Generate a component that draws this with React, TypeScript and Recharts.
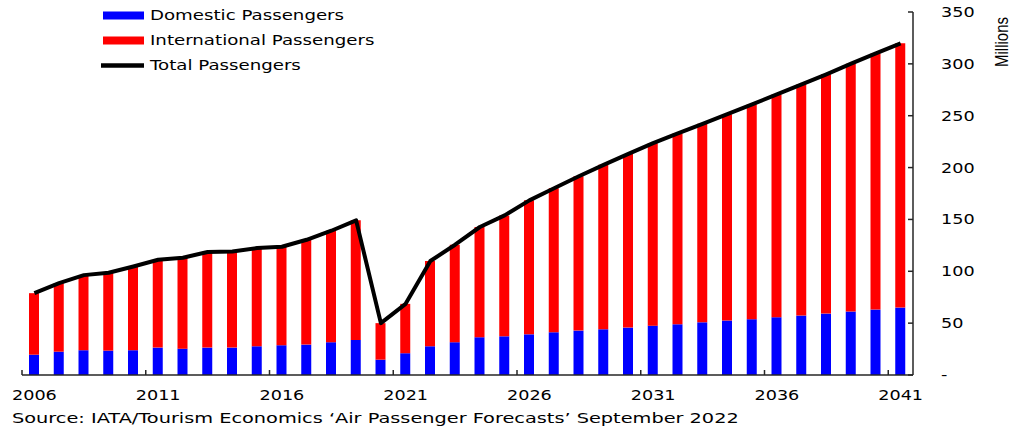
import { ComposedChart, Bar, Line, XAxis, YAxis, Legend } from 'recharts';

const years = [
  '2006', '2007', '2008', '2009', '2010', '2011', '2012', '2013', '2014', '2015', '2016', '2017',
  '2018', '2019', '2020', '2021', '2022', '2023', '2024', '2025', '2026', '2027', '2028', '2029',
  '2030', '2031', '2032', '2033', '2034', '2035', '2036', '2037', '2038', '2039', '2040', '2041',
];

const domestic = [
  19.6, 22.5, 23.9, 23.5, 23.9, 26.4, 25.4, 26.4, 26.4, 27.7, 28.7, 29.3,
  31.6, 33.8, 14.8, 21.0, 27.7, 31.6, 36.4, 37.3, 39.2, 41.2, 42.8, 44.1,
  45.7, 47.6, 48.9, 50.8, 52.5, 53.8, 55.7, 57.3, 59.2, 61.2, 63.1, 65.0,
];

const international = [
  59.3, 66.1, 72.4, 75.1, 80.7, 84.7, 87.6, 92.2, 92.7, 94.7, 95.0, 101.1,
  107.5, 115.3, 35.2, 47.6, 82.2, 94.0, 106.3, 116.6, 129.2, 138.8, 148.8, 158.5,
  167.5, 175.9, 184.0, 191.4, 199.0, 207.1, 214.8, 222.9, 230.7, 239.0, 247.0, 254.8,
];

const total = [
  78.9, 88.6, 96.3, 98.6, 104.6, 111.1, 113.0, 118.6, 119.1, 122.4, 123.7, 130.4,
  139.1, 149.1, 50.0, 68.6, 109.9, 125.6, 142.7, 153.9, 168.4, 180.0, 191.6, 202.6,
  213.2, 223.5, 232.9, 242.2, 251.5, 260.9, 270.5, 280.2, 289.9, 300.2, 310.1, 319.8,
];

const yTicks = [0, 50, 100, 150, 200, 250, 300, 350];

const data = years.map((year, i) => ({
  year,
  domestic: domestic[i],
  international: international[i],
  total: total[i],
}));

const FONT = '"DejaVu Sans", Verdana, sans-serif';
// the reference glyphs are wider than DejaVu, so text is stretched sideways
const STRETCH = 1.26;
const LEGEND_STRETCH = 1.3;
const SOURCE_STRETCH = 1.38;
const AXIS = '#262626';
const PLOT_LEFT = 22;
const PLOT_RIGHT = 913;
const HALF_BAND = (PLOT_RIGHT - PLOT_LEFT) / years.length / 2;

const XTick = ({ x, y, payload }: any) => (
  <g>
    <line x1={x - HALF_BAND} x2={x - HALF_BAND} y1={y} y2={y - 5} stroke={AXIS} strokeWidth={1.5} />
    <g transform={`translate(${x},${y + 25})`}>
      <text transform={`scale(${STRETCH},1)`} textAnchor="middle" fontSize={14} fontFamily={FONT} fill="#000">
        {payload.value}
      </text>
    </g>
  </g>
);

const YTick = ({ x, y, payload }: any) => (
  <g>
    <line x1={x - 5} x2={x} y1={y} y2={y} stroke={AXIS} strokeWidth={1.5} />
    <g transform={`translate(${x + 28},${y + 5})`}>
      <text transform={`scale(${STRETCH},1)`} textAnchor="start" fontSize={14} fontFamily={FONT} fill="#000">
        {payload.value === 0 ? '-' : payload.value}
      </text>
    </g>
  </g>
);

const LegendContent = ({ payload }: any) => (
  <svg width={400} height={80}>
    {(payload || []).map((entry: any, i: number) => {
      const cy = 15.5 + i * 25;
      return (
        <g key={entry.value}>
          {entry.type === 'line' ? (
            <line x1={101} x2={144} y1={cy} y2={cy} stroke={entry.color} strokeWidth={4.5} />
          ) : (
            <rect x={103} y={cy - 4} width={41} height={8} fill={entry.color} />
          )}
          <g transform={`translate(150,${cy + 4.8})`}>
            <text transform={`scale(${LEGEND_STRETCH},1)`} fontSize={14} fontFamily={FONT} fill="#000">
              {entry.value}
            </text>
          </g>
        </g>
      );
    })}
  </svg>
);

const SourceLabel = ({ viewBox }: any) => (
  <g transform={`translate(${viewBox.x - 10},${viewBox.y + 48})`}>
    <text transform={`scale(${SOURCE_STRETCH},1)`} fontSize={14} fontFamily={FONT} fill="#000">
      Source: IATA/Tourism Economics ‘Air Passenger Forecasts’ September 2022
    </text>
  </g>
);

const UnitLabel = ({ viewBox }: any) => (
  <g transform={`translate(${viewBox.x + 95},${viewBox.y + 30}) scale(1.27,1) rotate(-90)`}>
    <text textAnchor="middle" fontSize={15} fontFamily='"Liberation Sans", Arial, sans-serif' fill="#000">
      Millions
    </text>
  </g>
);

export default function App() {
  return (
    <div style={{ position: 'absolute', left: 0, top: 0, background: '#fff' }}>
      <ComposedChart
        width={1015}
        height={434}
        data={data}
        margin={{ top: 12, right: 2, bottom: 29, left: PLOT_LEFT }}
      >
        <XAxis
          dataKey="year"
          interval={4}
          height={30}
          tickSize={0}
          tickMargin={0}
          tickLine={false}
          axisLine={{ stroke: AXIS, strokeWidth: 1.5 }}
          tick={XTick}
          label={SourceLabel}
        />
        <YAxis
          orientation="right"
          domain={[0, 350]}
          ticks={yTicks}
          width={100}
          tickSize={0}
          tickMargin={0}
          tickLine={false}
          axisLine={{ stroke: AXIS, strokeWidth: 1.5 }}
          tick={YTick}
          label={UnitLabel}
        />
        <Legend
          layout="vertical"
          align="center"
          verticalAlign="middle"
          wrapperStyle={{ left: 0, top: 0, width: 400, height: 80 }}
          content={LegendContent}
        />
        <Bar dataKey="domestic" name="Domestic Passengers" stackId="a" fill="#0000ff" barSize={10} isAnimationActive={false} />
        <Bar dataKey="international" name="International Passengers" stackId="a" fill="#ff0000" barSize={10} isAnimationActive={false} />
        <Line
          dataKey="total"
          name="Total Passengers"
          type="linear"
          stroke="#000"
          strokeWidth={4}
          strokeLinejoin="round"
          dot={false}
          legendType="line"
          isAnimationActive={false}
        />
      </ComposedChart>
    </div>
  );
}
